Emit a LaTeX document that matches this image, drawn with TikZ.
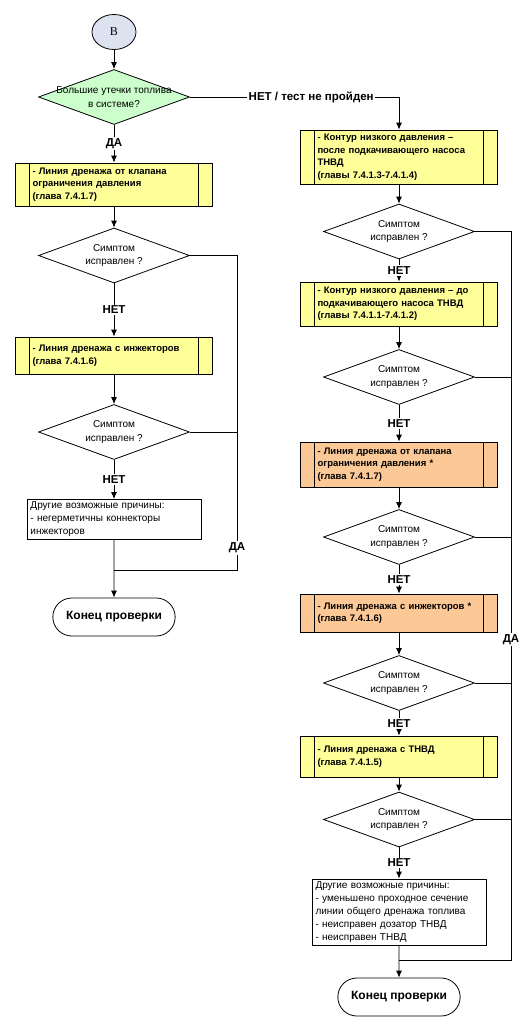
\documentclass[tikz,border=0pt]{standalone}
\usepackage{fontspec}
\setmainfont{Liberation Sans}
\newfontfamily\circfont{Liberation Serif}
\usetikzlibrary{arrows, arrows.meta, positioning, shapes.geometric, shapes.misc}

\definecolor{circblue}{RGB}{220,226,240}
\definecolor{qgreen}{RGB}{204,255,204}
\definecolor{boxyellow}{RGB}{255,255,153}
\definecolor{boxorange}{RGB}{252,200,150}

\newcommand\flowfont{\fontsize{10}{13.5}\selectfont}
\newcommand\procfont{\fontsize{9.5}{12.5}\selectfont\bfseries}
\newcommand\notefont{\fontsize{10}{13}\selectfont}
\newcommand\ansfont{\fontsize{11.5}{13}\selectfont\bfseries}

\tikzset{
  arr/.style={-{Latex[length=7pt, width=6pt]}},
  startc/.style={ellipse, draw, fill=circblue, minimum width=44pt, minimum height=35pt, font=\circfont\fontsize{12}{14}\selectfont},
  dec/.style={diamond, draw, fill=white, minimum width=151pt, minimum height=55pt, inner sep=0pt,
    label={[align=center, font=\flowfont]center:#1}},
  check/.style={dec={Симптом\\исправлен ?}},
  proc/.style={draw, fill=#1, minimum width=197pt, text width=163pt, inner xsep=17pt, inner ysep=2pt,
    align=left, font=\procfont, path picture={
      \draw ([xshift=14pt]path picture bounding box.north west) -- ([xshift=14pt]path picture bounding box.south west);
      \draw ([xshift=-14pt]path picture bounding box.north east) -- ([xshift=-14pt]path picture bounding box.south east);}},
  proc/.default=boxyellow,
  note/.style={draw, fill=white, text width=167pt, inner xsep=3.5pt, inner ysep=2.5pt, align=left, font=\notefont},
  endbox/.style={rounded rectangle, draw, minimum width=129pt, minimum height=38pt, font=\fontsize{12}{14}\selectfont\bfseries},
  ans/.style={fill=white, inner sep=1.5pt, font=\ansfont}
}

\begin{document}
\begin{tikzpicture}[x=1pt, y=-1pt, line width=.8pt]
  \useasboundingbox (0, 0) rectangle (530, 1029);

  % left column
  \node (start)[startc] at (114, 32) {В};
  \node (q)[dec={Большие утечки топлива\\в системе?}, fill=qgreen] at (114, 97) {};
  \node (l1)[proc, minimum height=43pt] at (114, 184.5) {- Линия дренажа от клапана\\ограничения давления\\(глава 7.4.1.7)};
  \node (l2)[check] at (114, 255.5) {};
  \node (l3)[proc, minimum height=37pt] at (114, 355.5) {- Линия дренажа с инжекторов\\(глава 7.4.1.6)};
  \node (l4)[check] at (114, 432) {};
  \node (l5)[note] at (114, 519.5) {Другие возможные причины:\\- негерметичны коннекторы\\инжекторов};
  \node (endl)[endbox] at (114, 617) {Конец проверки};

  % right column
  \node (r1)[proc, minimum height=54pt] at (399, 157) {- Контур низкого давления –\\после подкачивающего насоса\\ТНВД\\(главы 7.4.1.3-7.4.1.4)};
  \node (r2)[check] at (399, 231.5) {};
  \node (r3)[proc, minimum height=44pt] at (399, 304) {- Контур низкого давления – до\\подкачивающего насоса ТНВД\\(главы 7.4.1.1-7.4.1.2)};
  \node (r4)[check] at (399, 377) {};
  \node (r5)[proc=boxorange, minimum height=45pt] at (399, 464.5) {- Линия дренажа от клапана\\ограничения давления *\\(глава 7.4.1.7)};
  \node (r6)[check] at (399, 537) {};
  \node (r7)[proc=boxorange, minimum height=38pt] at (399, 613) {- Линия дренажа с инжекторов *\\(глава 7.4.1.6)};
  \node (r8)[check] at (399, 683) {};
  \node (r9)[proc, minimum height=41pt] at (399, 756.5) {- Линия дренажа с ТНВД\\(глава 7.4.1.5)};
  \node (r10)[check] at (399, 819.5) {};
  \node (r11)[note] at (399, 912) {Другие возможные причины:\\- уменьшено проходное сечение\\линии общего дренажа топлива\\- неисправен дозатор ТНВД\\- неисправен ТНВД};
  \node (endr)[endbox] at (399, 997) {Конец проверки};

  \coordinate (lj) at (237, 570);
  \coordinate (rj) at (511, 960);

  \draw[arr] (start) -- (q);
  \draw[arr] (q) -- node[ans] {ДА} (l1);
  \draw[arr] (q.east) -| node[ans, pos=.29] {НЕТ / тест не пройден} (r1.north);

  \draw[arr] (l1) -- (l2);
  \draw[arr] (l2) -- node[ans] {НЕТ} (l3);
  \draw[arr] (l3) -- (l4);
  \draw[arr] (l4) -- node[ans] {НЕТ} (l5);
  \draw[arr] (l5) -- (endl);
  \draw (l2.east) -| node[ans, pos=.965] {ДА} (lj) -- (lj -| endl);
  \draw (l4.east) -- (l4.east -| lj);

  \draw[arr] (r1) -- (r2);
  \draw[arr] (r2) -- node[ans] {НЕТ} (r3);
  \draw[arr] (r3) -- (r4);
  \draw[arr] (r4) -- node[ans] {НЕТ} (r5);
  \draw[arr] (r5) -- (r6);
  \draw[arr] (r6) -- node[ans] {НЕТ} (r7);
  \draw[arr] (r7) -- (r8);
  \draw[arr] (r8) -- node[ans] {НЕТ} (r9);
  \draw[arr] (r9) -- (r10);
  \draw[arr] (r10) -- node[ans] {НЕТ} (r11);
  \draw[arr] (r11) -- (endr);
  \draw (r2.east) -| node[ans, pos=.78] {ДА} (rj) -- (rj -| endr);
  \foreach \d in {r4, r6, r8, r10}
    \draw (\d.east) -- (\d.east -| rj);
\end{tikzpicture}
\end{document}
